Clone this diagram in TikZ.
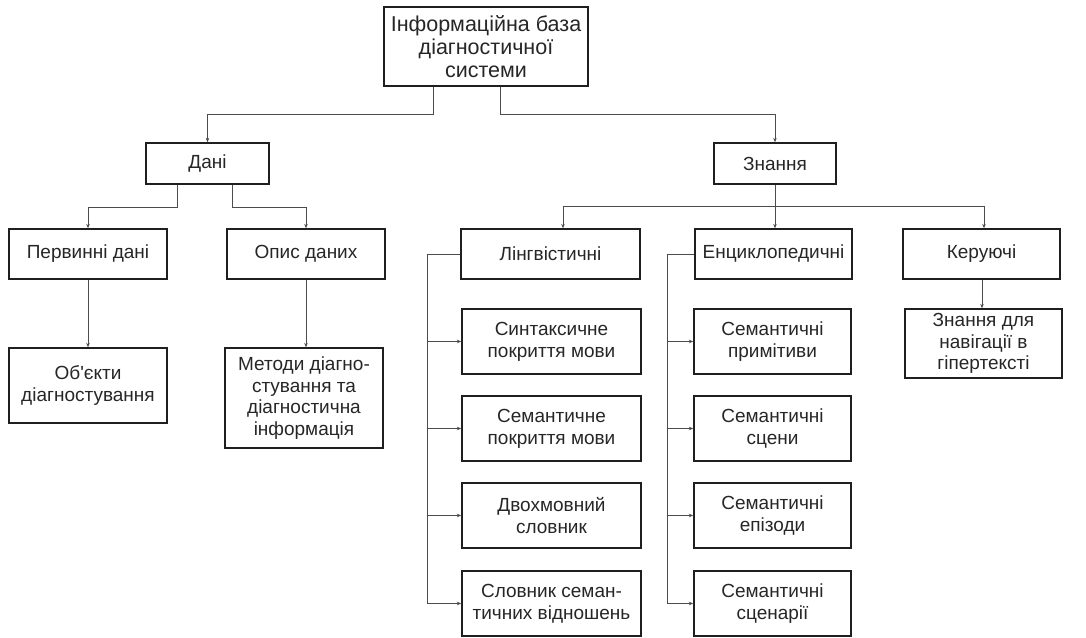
\documentclass[tikz,border=0pt]{standalone}
\usepackage{fontspec}
\setmainfont{Liberation Sans}
\newfontfamily\plainsans{Liberation Sans}
\usetikzlibrary{arrows.meta}
\tikzset{
  box/.style={draw=black!88, line width=1.3pt, rectangle, inner sep=0pt, align=center,
    font=\fontsize{19}{21.8}\selectfont, text=black!85},
  link/.style={draw=black!70, line width=0.9pt},
  arr/.style={link, -{Stealth[length=4.5pt,width=3.5pt]}}
}
\begin{document}
\begin{tikzpicture}[x=1pt,y=-1pt]
\useasboundingbox (0,0) rectangle (1086,637);
% top level
\node[box, minimum width=204, minimum height=79, font=\fontsize{21.5}{22.8}\selectfont] (top) at (486,46.5) {Інформаційна база\\діагностичної\\системи};
\node[box, minimum width=123, minimum height=41] (dani) at (207.5,163.5) {Дані};
\node[box, minimum width=122, minimum height=41] (zn) at (775,163.5) {Знання};
% level 2
\node[box, minimum width=158, minimum height=50] (perv) at (88,254) {Первинні дані};
\node[box, minimum width=158, minimum height=50] (opys) at (306,254) {Опис даних};
\node[box, minimum width=179, minimum height=50] (ling) at (550.5,254) {Лінгвістичні};
\node[box, minimum width=157, minimum height=50] (enc) at (773.5,254) {Енциклопедичні};
\node[box, minimum width=157, minimum height=50] (ker) at (981.5,254) {Керуючі};
% level 3
\node[box, minimum width=158, minimum height=75] (obj) at (88,385.5) {Об{\plainsans '}єкти\\діагностування};
\node[box, minimum width=158, minimum height=100] (met) at (304,398) {Методи діагно-\\стування та\\діагностична\\інформація};
\node[box, minimum width=157, minimum height=69] (nav) at (983.5,343.5) {Знання для\\навігації в\\гіпертексті};
% linguistic children
\node[box, minimum width=179, minimum height=65] (l1) at (551.5,341.5) {Синтаксичне\\покриття мови};
\node[box, minimum width=179, minimum height=65] (l2) at (551.5,428.5) {Семантичне\\покриття мови};
\node[box, minimum width=179, minimum height=65] (l3) at (551.5,515.5) {Двохмовний\\словник};
\node[box, minimum width=179, minimum height=65] (l4) at (551.5,603.5) {Словник семан-\\тичних відношень};
% encyclopedic children
\node[box, minimum width=157, minimum height=65] (e1) at (772.5,341.5) {Семантичні\\примітиви};
\node[box, minimum width=157, minimum height=65] (e2) at (772.5,428.5) {Семантичні\\сцени};
\node[box, minimum width=157, minimum height=65] (e3) at (772.5,515.5) {Семантичні\\епізоди};
\node[box, minimum width=157, minimum height=65] (e4) at (772.5,603.5) {Семантичні\\сценарії};
% junction coordinates
\coordinate (jt1) at (433,114);
\coordinate (jt2) at (500,114);
\coordinate (jd1) at (177,207);
\coordinate (jd2) at (232,207);
\coordinate (jz) at (775,206);
\coordinate (sl) at (427,603.5);
\coordinate (se) at (667,603.5);
% connectors
\draw[arr] (top.south -| jt1) -- (jt1) -| (dani);
\draw[arr] (top.south -| jt2) -- (jt2) -| (zn);
\draw[arr] (dani.south -| jd1) -- (jd1) -| (perv);
\draw[arr] (dani.south -| jd2) -- (jd2) -| (opys);
\draw[link] (zn.south -| jz) -- (jz);
\draw[arr] (jz) -| (ling.north -| 563,0);
\draw[arr] (jz) -- (enc.north -| jz);
\draw[arr] (jz) -| (ker.north -| 984,0);
\draw[arr] (perv) -- (obj);
\draw[arr] (opys.south) -- (met.north -| opys.south);
\draw[arr] (ker.south -| 982,0) -- (nav.north -| 982,0);
\draw[link] (ling.west) -| (sl);
\draw[link] (enc.west) -| (se);
\foreach \n in {l1,l2,l3,l4} \draw[arr] (\n.west -| sl) -- (\n.west);
\foreach \n in {e1,e2,e3,e4} \draw[arr] (\n.west -| se) -- (\n.west);
\end{tikzpicture}
\end{document}
